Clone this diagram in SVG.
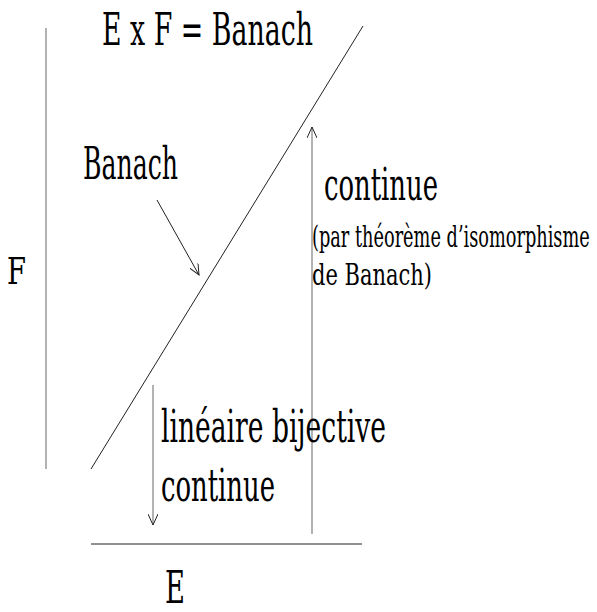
<svg xmlns="http://www.w3.org/2000/svg" width="597" height="612" viewBox="0 0 597 612">
<defs>
<style>
text{font-family:"DejaVu Serif","Liberation Serif",serif;fill:#000}
.big{font-size:44px}
.small{font-size:30px}
.ln{stroke:#222;stroke-width:1;fill:none}
.gr{stroke:#666;stroke-width:1;fill:none}
</style>
<marker id="ah" viewBox="0 0 12 10" refX="11" refY="5" markerWidth="12" markerHeight="10" markerUnits="userSpaceOnUse" orient="auto">
<path d="M0,0 L11,5 L0,10" fill="none" stroke="#222" stroke-width="1"/>
</marker>
</defs>
<rect width="597" height="612" fill="#fff"/>
<g id="connectors">
<line class="gr" x1="46" y1="28" x2="46" y2="469"/>
<line class="ln" x1="91" y1="544" x2="362" y2="544"/>
<line class="ln" x1="91" y1="469" x2="363" y2="26"/>
<line class="ln" x1="157" y1="200" x2="199" y2="275" marker-end="url(#ah)"/>
<line class="gr" x1="312" y1="534" x2="312" y2="127" marker-end="url(#ah)"/>
<line class="gr" x1="153" y1="385" x2="153" y2="525" marker-end="url(#ah)"/>
</g>
<g id="title"><text class="big" x="102" y="45" textLength="211" lengthAdjust="spacingAndGlyphs">E x F = Banach</text></g>
<g id="banach"><text class="big" x="83" y="179" textLength="95" lengthAdjust="spacingAndGlyphs">Banach</text></g>
<g id="continue-up"><text class="big" x="324" y="200" textLength="114" lengthAdjust="spacingAndGlyphs">continue</text>
<text class="small" transform="translate(312,247) scale(0.55,1)" x="0" y="0" textLength="505" lengthAdjust="spacingAndGlyphs">(par théorème d’isomorphisme</text>
<text class="small" x="312" y="285" textLength="120" lengthAdjust="spacingAndGlyphs">de Banach)</text></g>
<g id="lineaire"><text class="big" x="161" y="442" textLength="225" lengthAdjust="spacingAndGlyphs">linéaire bijective</text>
<text class="big" x="161" y="501" textLength="114" lengthAdjust="spacingAndGlyphs">continue</text></g>
<g id="F"><text x="7" y="284" font-size="38" textLength="19" lengthAdjust="spacingAndGlyphs">F</text></g>
<g id="E"><text x="165" y="603" font-size="44" textLength="20" lengthAdjust="spacingAndGlyphs">E</text></g>
</svg>
